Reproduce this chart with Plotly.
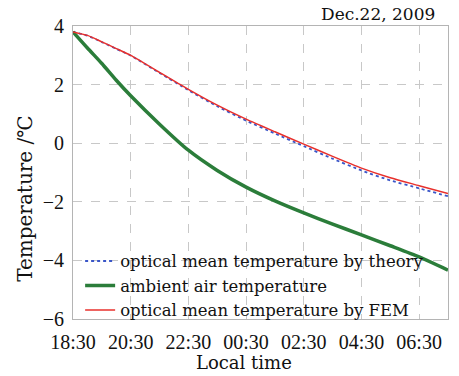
import plotly.graph_objects as go

# Hours elapsed since 18:30 local time
hours = [0, 0.5, 1, 1.5, 2, 3, 4, 5, 6, 7, 8, 9, 10, 11, 12, 13]

# Optical mean temperature computed with the FEM model (°C)
fem_temp = [3.8, 3.68, 3.46, 3.23, 3.0, 2.42, 1.84, 1.3, 0.82, 0.39, -0.03,
            -0.45, -0.85, -1.18, -1.45, -1.72]
# Optical mean temperature from the analytical theory (°C)
theory_temp = [3.8, 3.67, 3.45, 3.22, 2.99, 2.4, 1.81, 1.26, 0.77, 0.33, -0.1,
               -0.53, -0.93, -1.27, -1.54, -1.81]
# Ambient air temperature (°C)
air_temp = [3.8, 3.25, 2.72, 2.15, 1.62, 0.65, -0.24, -0.93, -1.5, -1.97, -2.38,
            -2.76, -3.13, -3.5, -3.88, -4.33]

tick_vals = [0, 2, 4, 6, 8, 10, 12]
tick_text = ["18:30", "20:30", "22:30", "00:30", "02:30", "04:30", "06:30"]

WORD_FONT = "DejaVu Serif"
NUM_FONT = "Liberation Serif"
INK = "#111111"

fig = go.Figure()
fig.add_trace(go.Scatter(
    x=hours, y=theory_temp, mode="lines",
    name="optical mean temperature by theory",
    line=dict(color="#3a56c8", width=1.8, dash="dot", shape="spline", smoothing=0.6),
))
fig.add_trace(go.Scatter(
    x=hours, y=air_temp, mode="lines",
    name="ambient air temperature",
    line=dict(color="#2b7d3a", width=3.5, shape="spline", smoothing=0.6),
))
fig.add_trace(go.Scatter(
    x=hours, y=fem_temp, mode="lines",
    name="optical mean temperature by FEM",
    line=dict(color="#e8302c", width=1.5, shape="spline", smoothing=0.6),
))

axis_common = dict(
    showgrid=True, gridcolor="#c8c8c8", griddash="dash", gridwidth=1,
    showline=True, linecolor="#b4b4b4", linewidth=1, mirror=True,
    ticks="", zeroline=False,
    tickfont=dict(family=NUM_FONT, size=20, color=INK),
)

fig.update_layout(
    width=459, height=376,
    margin=dict(l=73, r=11, t=26, b=57),
    paper_bgcolor="white", plot_bgcolor="white",
    font=dict(family=WORD_FONT, size=16, color=INK),
    showlegend=True,
    legend=dict(
        x=0.019, y=-0.03, xanchor="left", yanchor="bottom",
        bgcolor="rgba(0,0,0,0)", borderwidth=0,
        font=dict(family=WORD_FONT, size=16.5, color=INK),
        tracegroupgap=0, itemwidth=30,
    ),
    xaxis=dict(
        range=[0, 13], tickvals=tick_vals, ticktext=tick_text,
        ticklabelstandoff=5,
        **axis_common,
    ),
    yaxis=dict(
        range=[-6, 4], tickvals=[-6, -4, -2, 0, 2, 4],
        ticklabelstandoff=4,
        **axis_common,
    ),
    annotations=[
        dict(text="Dec.22, 2009", x=0.9707, y=1.041, xref="paper", yref="paper",
             xanchor="right", yanchor="middle", showarrow=False,
             font=dict(family=WORD_FONT, size=17, color=INK)),
        dict(text="Local time", x=0.457, y=-0.15, xref="paper", yref="paper",
             xanchor="center", yanchor="middle", showarrow=False,
             font=dict(family=WORD_FONT, size=18, color=INK)),
        dict(text="Temperature /℃", x=-0.128, y=0.41, xref="paper", yref="paper",
             xanchor="center", yanchor="middle", showarrow=False, textangle=-90,
             font=dict(family=WORD_FONT, size=20, color=INK)),
    ],
)

fig.write_html("out.html")
